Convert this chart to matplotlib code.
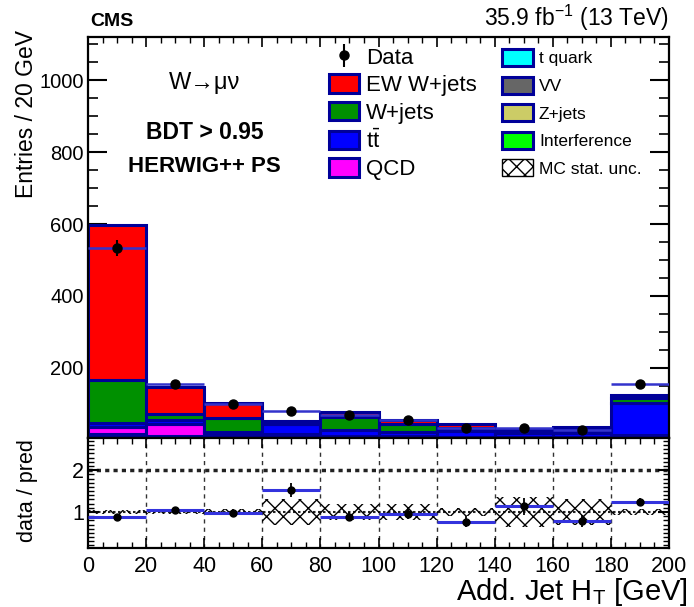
import numpy as np
import matplotlib
matplotlib.use('Agg')
import matplotlib.pyplot as plt
from matplotlib.patches import Patch
from matplotlib.ticker import MultipleLocator

plt.rcParams['font.family'] = ['Liberation Sans', 'DejaVu Sans']
plt.rcParams['mathtext.fontset'] = 'custom'
plt.rcParams['mathtext.rm'] = 'Liberation Sans'
plt.rcParams['mathtext.it'] = 'Liberation Sans:italic'
plt.rcParams['mathtext.bf'] = 'Liberation Sans:bold'
plt.rcParams['hatch.linewidth'] = 1.0

# binning of the additional-jet HT spectrum
edges = np.arange(0, 201, 20)
data = np.array([533, 155, 100, 81, 69, 54, 34, 33, 28, 155])

# MC contributions, stacked bottom -> top
interference = np.array([3, 2, 2, 1, 1, 1, 1, 1, 1, 1])
zjets = np.array([4, 2, 3, 3, 2, 2, 2, 2, 2, 2])
vv = np.array([3, 2, 2, 2, 2, 2, 2, 1, 1, 3])
tquark = np.array([6, 4, 5, 6, 5, 4, 3, 3, 3, 6])
qcd = np.array([20, 35, 2, 3, 1, 1, 1, 1, 1, 2])
ttbar = np.array([11, 10, 8, 28, 15, 12, 15, 12, 12, 89])
wjets = np.array([120, 18, 40, 2, 38, 22, 8, 3, 8, 14])
ew = np.array([430, 75, 40, 8, 14, 12, 12, 6, 8, 8])
mc_unc_rel = np.array([0.04, 0.05, 0.08, 0.30, 0.20, 0.20, 0.10, 0.35, 0.30, 0.07])

stack = [
    (interference, '#00ff00', 'Interference'),
    (zjets, '#cccc66', 'Z+jets'),
    (vv, '#666666', 'VV'),
    (tquark, '#00ffff', 't quark'),
    (qcd, '#ff00ff', 'QCD'),
    (ttbar, '#0000ff', r't$\bar{\rm t}$'),
    (wjets, '#009000', 'W+jets'),
    (ew, '#ff0000', 'EW W+jets'),
]
navy = '#000099'

left = edges[:-1]
width = np.diff(edges)
centers = left + width / 2

fig = plt.figure(figsize=(6.94, 6.07), dpi=100)
W, H = 694.0, 607.0
ax = fig.add_axes([88 / W, 1 - 438 / H, 581 / W, 401 / H])
rax = fig.add_axes([88 / W, 1 - 548 / H, 581 / W, 110 / H], sharex=ax)

# stacked histogram
bottom = np.zeros(len(left))
for vals, col, lab in stack:
    ax.bar(left, vals, width=width, bottom=bottom, align='edge',
           color=col, edgecolor=navy, linewidth=2.2, zorder=2)
    bottom = bottom + vals
total = bottom

# data with poisson errors
ax.errorbar(centers, data, xerr=width / 2, fmt='none', ecolor='#3333cc',
            elinewidth=1.8, capsize=0, zorder=4)
ax.errorbar(centers, data, yerr=np.sqrt(data), fmt='o', color='black',
            ms=6.5, elinewidth=1.5, capsize=0, zorder=5)

ax.set_xlim(0, 200)
ax.set_ylim(5, 1120)
ax.yaxis.set_minor_locator(MultipleLocator(50))
ax.xaxis.set_major_locator(MultipleLocator(20))
ax.xaxis.set_minor_locator(MultipleLocator(5))
ax.set_yticks([200, 400, 600, 800, 1000])
ax.tick_params(axis='y', which='major', direction='in', length=14, width=1.5,
               labelsize=14.5, pad=3, left=True, right=True)
ax.tick_params(axis='y', which='minor', direction='in', length=7, width=1.2,
               left=True, right=True)
ax.tick_params(axis='x', which='major', direction='in', length=7, width=1.2,
               top=True, bottom=True, labelbottom=False)
ax.tick_params(axis='x', which='minor', direction='in', length=4, width=1.0,
               top=True, bottom=True)
for sp in ax.spines.values():
    sp.set_linewidth(1.6)

# ratio panel
ratio = data / total
ratio_err = np.sqrt(data) / total
rax.bar(left, 2 * mc_unc_rel, width=width, bottom=1 - mc_unc_rel, align='edge',
        color='none', edgecolor='black', hatch='xx', linewidth=0, zorder=2)
for x in edges[1:-1]:
    rax.axvline(x, color='#333333', lw=1.0, ls=(0, (3, 3)), zorder=1)
rax.axhline(2, color='#222222', lw=2.5, ls=(0, (1.2, 1.2)), zorder=1)
rax.axhline(1, color='#222222', lw=1.5, ls=(0, (1.2, 1.2)), zorder=1)
rax.hlines(ratio, left, left + width, color='#3333dd', lw=2.2, zorder=3)
rax.errorbar(centers, ratio, yerr=ratio_err, fmt='o', color='black', ms=5,
             elinewidth=1.3, capsize=0, zorder=4)

rax.set_ylim(0.14, 2.77)
rax.set_yticks([1, 2])
rax.yaxis.set_minor_locator(MultipleLocator(0.1))
rax.set_xticks(edges)
rax.tick_params(axis='y', which='major', direction='in', length=8, width=1.5,
                labelsize=15.5, pad=3, left=True, right=True)
rax.tick_params(axis='y', which='minor', direction='in', length=4, width=1.0,
                left=True, right=True)
rax.tick_params(axis='x', which='major', direction='in', length=7, width=1.2,
                top=True, bottom=True, labelsize=15.5, pad=6)
rax.tick_params(axis='x', which='minor', direction='in', length=4, width=1.0,
                top=True, bottom=True)
for sp in rax.spines.values():
    sp.set_linewidth(1.6)

# legends
data_handle = ax.errorbar([], [], yerr=[], fmt='o', color='black', ms=6.5,
                          elinewidth=1.5, capsize=0)
first = [data_handle]
first_labels = ['Data']
for vals, col, lab in stack[::-1][:4]:
    first.append(Patch(facecolor=col, edgecolor=navy, linewidth=2.2))
    first_labels.append(lab)
second = []
second_labels = []
for vals, col, lab in [stack[3], stack[2], stack[1], stack[0]]:
    second.append(Patch(facecolor=col, edgecolor=navy, linewidth=2.2))
    second_labels.append(lab)
second.append(Patch(facecolor='white', edgecolor='black', hatch='xx', linewidth=1))
second_labels.append('MC stat. unc.')

leg1 = ax.legend(first, first_labels, loc='upper left',
                 bbox_to_anchor=((329 - 88) / 581.0, (438 - 47) / 401.0),
                 frameon=False, fontsize=16, handlelength=1.35, handleheight=0.9,
                 handletextpad=0.3, labelspacing=0.25, borderpad=0,
                 borderaxespad=0)
ax.add_artist(leg1)
ax.legend(second, second_labels, loc='upper left',
          bbox_to_anchor=((502 - 88) / 581.0, (438 - 49) / 401.0),
          frameon=False, fontsize=12.5, handlelength=1.78, handleheight=1.15,
          handletextpad=0.35, labelspacing=0.58, borderpad=0, borderaxespad=0)

# labels and annotations
ax.text(0.201, 0.885, 'W→μν', transform=ax.transAxes,
        ha='center', va='center', fontsize=17)
ax.text(0.201, 0.761, 'BDT > 0.95', transform=ax.transAxes, ha='center',
        va='center', fontsize=16.5, fontweight='bold')
ax.text(0.201, 0.676, 'HERWIG++ PS', transform=ax.transAxes, ha='center',
        va='center', fontsize=16, fontweight='bold')

fig.text(90 / W, 1 - 26 / H, 'CMS', fontsize=14, fontweight='bold',
         ha='left', va='baseline')
fig.text(669 / W, 1 - 26 / H, r'35.9 fb$^{-1}$ (13 TeV)', fontsize=16.5,
         ha='right', va='baseline')
fig.text(27 / W, 1 - 30 / H, 'Entries / 20 GeV', rotation=90, fontsize=16.5,
         ha='center', va='top')
fig.text(27 / W, 1 - 491 / H, 'data / pred', rotation=90, fontsize=15.5,
         ha='center', va='center')
fig.text(688 / W, 1 - 592 / H, r'Add. Jet H$_{\rm T}$ [GeV]', fontsize=21,
         ha='right', va='center')

fig.savefig('out.png', dpi=100)
